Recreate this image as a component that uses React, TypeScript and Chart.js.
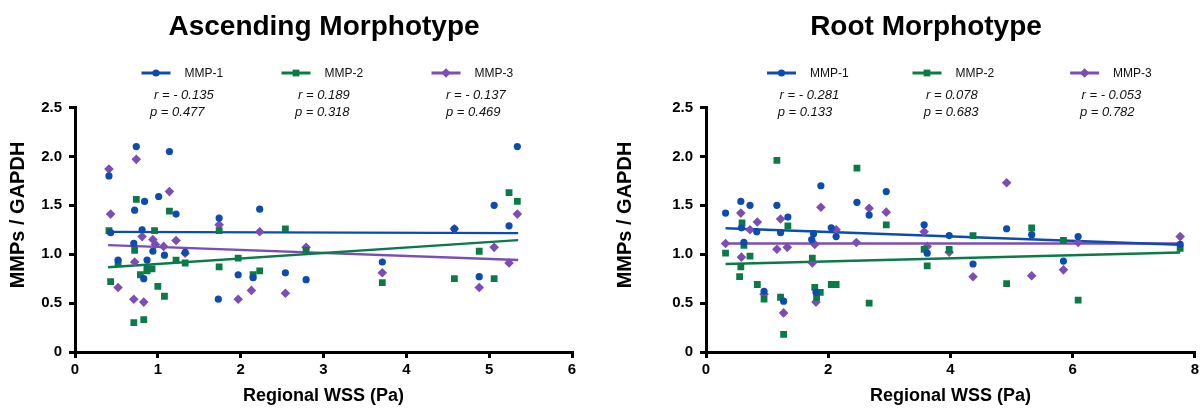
import React, { useEffect, useRef } from "react";
import { Chart, registerables } from "chart.js";

Chart.register(...registerables);

const FONT = '"Liberation Sans", Arial, Helvetica, sans-serif';
const BLUE = "#0c4cae";
const GREEN = "#0b7a47";
const PURPLE = "#7c4db3";
const COLORS = [BLUE, GREEN, PURPLE];
const STYLES = ["circle", "rect", "rectRot"];
const RADII = [3.6, 4.8, 4.8];

const seriesLabels = ["MMP-1", "MMP-2", "MMP-3"];
const xAxisTitle = "Regional WSS (Pa)";
const yAxisTitle = "MMPs / GAPDH";
const yTicks = [0, 0.5, 1.0, 1.5, 2.0, 2.5];

// ---------- Ascending Morphotype ----------
const ascTitle = "Ascending Morphotype";
const ascXTicks = [0, 1, 2, 3, 4, 5, 6];
const ascR = ["r = - 0.135", "r = 0.189", "r = - 0.137"];
const ascP = ["p = 0.477", "p = 0.318", "p = 0.469"];

const ascMMP1: [number, number][] = [
  [0.74, 2.1], [1.14, 2.05], [0.41, 1.8], [0.84, 1.54], [1.01, 1.59], [0.72, 1.45],
  [1.22, 1.41], [1.74, 1.37], [0.43, 1.22], [0.81, 1.25], [0.71, 1.11], [0.94, 1.03],
  [1.08, 0.99], [1.33, 1.02], [0.52, 0.94], [0.87, 0.94], [0.83, 0.75], [1.97, 0.79],
  [1.73, 0.54], [2.23, 1.46], [2.15, 0.76], [2.54, 0.81], [2.79, 0.74], [3.71, 0.92],
  [5.34, 2.1], [5.06, 1.5], [5.24, 1.29], [4.58, 1.26], [4.88, 0.77],
];
const ascMMP2: [number, number][] = [
  [0.74, 1.56], [1.14, 1.44], [1.74, 1.24], [0.41, 1.24], [0.96, 1.24], [0.72, 1.04],
  [0.52, 0.91], [1.22, 0.94], [1.33, 0.91], [1.74, 0.87], [1.97, 0.96], [0.87, 0.85],
  [0.93, 0.85], [0.87, 0.83], [0.79, 0.79], [0.43, 0.72], [1.0, 0.67], [1.08, 0.57],
  [0.71, 0.3], [0.83, 0.33], [2.54, 1.26], [2.79, 1.04], [2.15, 0.79], [2.23, 0.83],
  [3.71, 0.71], [5.24, 1.63], [5.34, 1.54], [4.88, 1.03], [4.58, 0.75], [5.06, 0.75],
];
const ascMMP3: [number, number][] = [
  [0.74, 1.97], [0.41, 1.87], [1.14, 1.64], [0.43, 1.41], [1.74, 1.3], [0.81, 1.18],
  [0.94, 1.15], [1.22, 1.14], [0.97, 1.1], [1.07, 1.08], [1.33, 1.01], [0.72, 0.92],
  [0.52, 0.66], [2.13, 0.63], [1.97, 0.54], [0.71, 0.54], [0.83, 0.51], [2.23, 1.23],
  [2.79, 1.07], [2.54, 0.6], [3.71, 0.81], [5.24, 0.91], [4.58, 1.26], [5.06, 1.07],
  [5.34, 1.41], [4.88, 0.66],
];
const ascFitX = [0.4, 5.35];
const ascFit1 = [1.228, 1.215];
const ascFit2 = [0.866, 1.144];
const ascFit3 = [1.093, 0.941];

// ---------- Root Morphotype ----------
const rootTitle = "Root Morphotype";
const rootXTicks = [0, 2, 4, 6, 8];
const rootR = ["r = - 0.281", "r = 0.078", "r = - 0.053"];
const rootP = ["p = 0.133", "p = 0.683", "p = 0.782"];

const rootMMP1: [number, number][] = [
  [0.32, 1.42], [0.57, 1.54], [0.72, 1.5], [1.16, 1.5], [1.88, 1.7], [1.34, 1.38],
  [0.58, 1.27], [0.83, 1.23], [1.22, 1.22], [1.76, 1.21], [2.05, 1.27], [2.13, 1.18],
  [0.62, 1.12], [0.95, 0.62], [1.27, 0.52], [1.73, 1.15], [1.8, 0.61], [2.47, 1.53],
  [2.95, 1.64], [2.67, 1.4], [3.57, 1.3], [3.62, 1.01], [3.98, 1.19], [4.37, 0.9],
  [4.92, 1.26], [5.33, 1.2], [5.85, 0.93], [6.09, 1.18], [7.76, 1.1],
];
const rootMMP2: [number, number][] = [
  [1.16, 1.96], [0.59, 1.32], [1.34, 1.29], [0.32, 1.01], [0.62, 1.09], [0.72, 0.98],
  [0.57, 0.87], [0.55, 0.77], [0.84, 0.69], [0.95, 0.54], [1.22, 0.56], [1.27, 0.18],
  [1.74, 0.96], [1.78, 0.66], [1.87, 0.61], [1.81, 0.56], [2.05, 0.69], [2.13, 0.69],
  [2.47, 1.88], [2.95, 1.3], [2.67, 0.5], [3.57, 1.05], [3.62, 0.88], [3.98, 1.05],
  [4.37, 1.19], [4.92, 0.7], [5.33, 1.27], [5.85, 1.14], [6.09, 0.53], [7.76, 1.06],
];
const rootMMP3: [number, number][] = [
  [1.88, 1.48], [0.57, 1.42], [0.84, 1.33], [1.22, 1.36], [0.72, 1.25], [2.13, 1.25],
  [0.32, 1.11], [1.16, 1.05], [1.33, 1.07], [0.58, 0.97], [0.95, 0.59], [1.27, 0.4],
  [1.78, 1.1], [1.74, 0.91], [1.8, 0.51], [2.67, 1.47], [2.95, 1.43], [2.46, 1.12],
  [3.57, 1.23], [3.62, 1.08], [3.98, 1.02], [4.37, 0.77], [4.92, 1.73], [5.33, 0.78],
  [5.85, 0.84], [6.09, 1.12], [7.76, 1.18],
];
const rootFitX = [0.32, 7.76];
const rootFit1 = [1.266, 1.096];
const rootFit2 = [0.9, 1.018];
const rootFit3 = [1.11, 1.11];

type PanelCfg = {
  title: string;
  series: [number, number][][];
  fitX: number[];
  fits: number[][];
  xTicks: number[];
  rTexts: string[];
  pTexts: string[];
  // layout (canvas coordinates)
  yAxisWidth: number;
  padRight: number;
  titleX: number;
  legendMarkerX: number[];
  statX: number[];
  pX: number[];
  yTitleX: number;
};

const panels: PanelCfg[] = [
  {
    title: ascTitle,
    series: [ascMMP1, ascMMP2, ascMMP3],
    fitX: ascFitX,
    fits: [ascFit1, ascFit2, ascFit3],
    xTicks: ascXTicks,
    rTexts: ascR,
    pTexts: ascP,
    yAxisWidth: 75,
    padRight: 29,
    titleX: 324,
    legendMarkerX: [156, 296, 446],
    statX: [154, 298, 446],
    pX: [150, 295, 446],
    yTitleX: 18,
  },
  {
    title: rootTitle,
    series: [rootMMP1, rootMMP2, rootMMP3],
    fitX: rootFitX,
    fits: [rootFit1, rootFit2, rootFit3],
    xTicks: rootXTicks,
    rTexts: rootR,
    pTexts: rootP,
    yAxisWidth: 105,
    padRight: 5,
    titleX: 325,
    legendMarkerX: [180.5, 326, 483.6],
    statX: [178.6, 325, 480.5],
    pX: [176.7, 322.8, 479],
    yTitleX: 24,
  },
];

function drawMarker(ctx: CanvasRenderingContext2D, style: string, x: number, y: number, r: number) {
  ctx.beginPath();
  if (style === "circle") {
    ctx.arc(x, y, r, 0, Math.PI * 2);
  } else if (style === "rect") {
    const s = r * Math.SQRT1_2;
    ctx.rect(x - s, y - s, 2 * s, 2 * s);
  } else {
    ctx.moveTo(x - r, y);
    ctx.lineTo(x, y - r);
    ctx.lineTo(x + r, y);
    ctx.lineTo(x, y + r);
    ctx.closePath();
  }
  ctx.fill();
}

const decorPlugin = {
  id: "decor",
  afterDraw(chart: any, _args: any, opts: any) {
    const cfg: PanelCfg = opts.cfg;
    if (!cfg) return;
    const ctx: CanvasRenderingContext2D = chart.ctx;
    ctx.save();
    ctx.fillStyle = "#000";
    ctx.font = `bold 28px ${FONT}`;
    ctx.textAlign = "center";
    ctx.textBaseline = "alphabetic";
    ctx.fillText(cfg.title, cfg.titleX, 35);

    const legendY = 73;
    cfg.legendMarkerX.forEach((mx, i) => {
      ctx.strokeStyle = COLORS[i];
      ctx.fillStyle = COLORS[i];
      ctx.lineWidth = 3;
      ctx.beginPath();
      ctx.moveTo(mx - 14.5, legendY);
      ctx.lineTo(mx + 14.5, legendY);
      ctx.stroke();
      drawMarker(ctx, STYLES[i], mx, legendY, RADII[i]);
      ctx.fillStyle = "#111";
      ctx.font = `12px ${FONT}`;
      ctx.textAlign = "left";
      ctx.textBaseline = "middle";
      ctx.fillText(seriesLabels[i], mx + 28.5, legendY + 1);
      ctx.font = `italic 13px ${FONT}`;
      ctx.fillText(cfg.rTexts[i], cfg.statX[i], 95);
      ctx.fillText(cfg.pTexts[i], cfg.pX[i], 112);
    });

    ctx.fillStyle = "#000";
    ctx.font = `bold 20px ${FONT}`;
    ctx.translate(cfg.yTitleX, 215);
    ctx.rotate(-Math.PI / 2);
    ctx.textAlign = "center";
    ctx.textBaseline = "middle";
    ctx.fillText(yAxisTitle, 0, 0);
    ctx.restore();
  },
};

function buildConfig(cfg: PanelCfg): any {
  const pointSets = cfg.series.map((pts, i) => ({
    label: seriesLabels[i],
    data: pts.map(([x, y]) => ({ x, y })),
    showLine: false,
    pointStyle: STYLES[i],
    pointRadius: RADII[i],
    pointBorderWidth: 0,
    backgroundColor: COLORS[i],
    borderColor: COLORS[i],
  }));
  const fitSets = cfg.fits.map((fy, i) => ({
    label: seriesLabels[i] + " fit",
    data: cfg.fitX.map((x, j) => ({ x, y: fy[j] })),
    showLine: true,
    pointRadius: 0,
    borderWidth: 2.4,
    borderColor: COLORS[i],
    backgroundColor: COLORS[i],
  }));
  const axisCommon = {
    grid: {
      display: true,
      drawOnChartArea: false,
      drawTicks: true,
      tickLength: 6,
      tickWidth: 3,
      tickColor: "#000",
      color: "#000",
      lineWidth: 3,
    },
    border: { display: true, color: "#000", width: 3 },
  };
  return {
    type: "scatter",
    data: { datasets: [...pointSets, ...fitSets] },
    options: {
      animation: false,
      responsive: false,
      devicePixelRatio: 1,
      layout: { padding: { left: 0, right: cfg.padRight, top: 107.5, bottom: 0 } },
      plugins: {
        legend: { display: false },
        tooltip: { enabled: false },
        title: { display: false },
        decor: { cfg },
      },
      scales: {
        x: {
          type: "linear",
          min: cfg.xTicks[0],
          max: cfg.xTicks[cfg.xTicks.length - 1],
          afterBuildTicks: (s: any) => {
            s.ticks = cfg.xTicks.map((v) => ({ value: v }));
          },
          afterFit: (s: any) => {
            s.height = 59;
          },
          ticks: {
            color: "#000",
            font: { family: FONT, size: 15, weight: "bold" },
            padding: 3,
            maxRotation: 0,
            callback: (v: number) => String(v),
          },
          title: {
            display: true,
            text: xAxisTitle,
            color: "#000",
            font: { family: FONT, size: 18, weight: "bold" },
            padding: { top: 0, bottom: 4 },
          },
          ...axisCommon,
        },
        y: {
          type: "linear",
          min: 0,
          max: 2.5,
          afterBuildTicks: (s: any) => {
            s.ticks = yTicks.map((v) => ({ value: v }));
          },
          afterFit: (s: any) => {
            s.width = cfg.yAxisWidth;
          },
          ticks: {
            color: "#000",
            font: { family: FONT, size: 15, weight: "bold" },
            padding: 7,
            callback: (v: number) => (v === 0 ? "0" : v.toFixed(1)),
          },
          ...axisCommon,
        },
      },
    },
    plugins: [decorPlugin],
  };
}

function Panel({ cfg, left }: { cfg: PanelCfg; left: number }) {
  const ref = useRef<HTMLCanvasElement>(null);
  useEffect(() => {
    if (!ref.current) return;
    const chart = new Chart(ref.current, buildConfig(cfg));
    return () => chart.destroy();
  }, [cfg]);
  return (
    <canvas
      ref={ref}
      width={601}
      height={411}
      style={{ position: "absolute", left, top: 0, width: "601px", height: "411px" }}
    />
  );
}

export default function App() {
  useEffect(() => {
    document.body.style.margin = "0";
    document.body.style.overflow = "hidden";
  }, []);
  return (
    <div style={{ position: "fixed", left: 0, top: 0, width: 1202, height: 411, background: "#fff" }}>
      <Panel cfg={panels[0]} left={0} />
      <Panel cfg={panels[1]} left={601} />
    </div>
  );
}
